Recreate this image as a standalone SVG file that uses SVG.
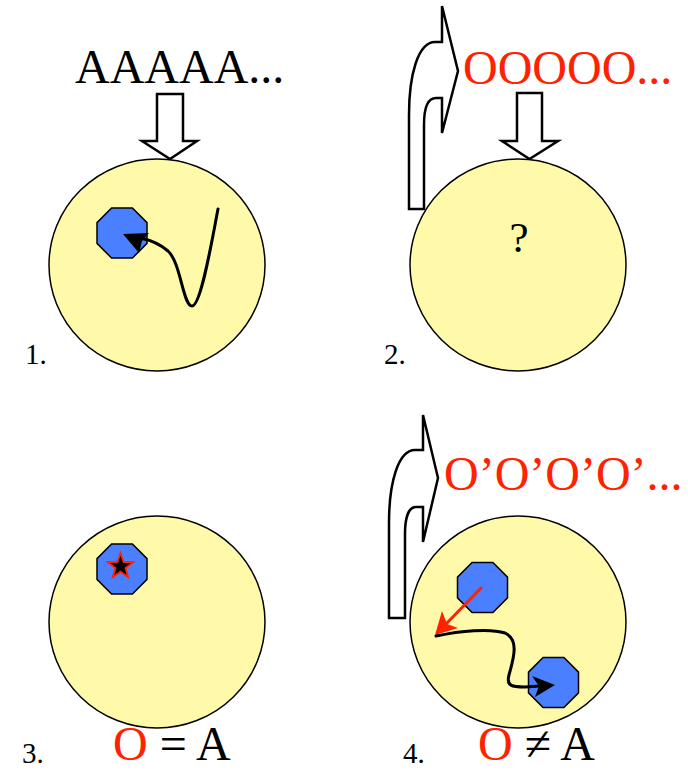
<svg xmlns="http://www.w3.org/2000/svg" width="688" height="771" viewBox="0 0 688 771">
<defs>
<style>
.cell{fill:#fffaaa;stroke:#000;stroke-width:1.5}
.oct{fill:#4a80ff;stroke:#000;stroke-width:1.5}
.big{font-family:"Liberation Serif","Times New Roman",serif;font-size:48px}
.num{font-family:"Liberation Serif","Times New Roman",serif;font-size:29px;fill:#000}
.red{fill:#ff2200}
.hollow{fill:#fff;stroke:#000;stroke-width:2.5;stroke-linejoin:miter}
.curve{fill:none;stroke:#000;stroke-width:3;stroke-linecap:round}
</style>
<polygon id="octShape" points="-10.4,-25 10.4,-25 25,-10.4 25,10.4 10.4,25 -10.4,25 -25,10.4 -25,-10.4"/>
</defs>
<rect width="688" height="771" fill="#fff"/>

<g id="panel1">
<text class="big" x="75" y="83">AAAAA...</text>
<polygon class="hollow" points="157,94 183,94 183,141 197,141 170,159 142,141 157,141"/>
<ellipse class="cell" cx="157" cy="265" rx="108" ry="106"/>
<use href="#octShape" class="oct" x="122" y="233"/>
<path class="curve" d="M218,209 C212,240 201,306 192,306 C183,306 181,263 168,251 C160,244 150,240 140,238"/>
<polygon points="123,234 149,233 142,241 139,253" fill="#000"/>
<text class="num" x="25" y="364">1.</text>
</g>

<g id="panel2">
<path class="hollow" d="M409,209 L409,115 C409,75 418,42 435,42 L442,42 L442,6 L458,71 L442,133 L442,98 L436,98 C428,98 424,108 424,125 L424,209 Z"/>
<text class="big red" x="463" y="84">OOOOO...</text>
<polygon class="hollow" points="517,93 542,93 542,141 558,141 529.5,159 502,141 517,141"/>
<ellipse class="cell" cx="518" cy="265" rx="108" ry="106"/>
<text x="519" y="252" text-anchor="middle" font-family="Liberation Serif, Times New Roman, serif" font-size="43">?</text>
<text class="num" x="384" y="364">2.</text>
</g>

<g id="panel3">
<ellipse class="cell" cx="157" cy="622" rx="108" ry="106"/>
<use href="#octShape" class="oct" x="122" y="569"/>
<polygon points="120.5,553 123.6,562.2 133.2,562.2 125.5,568 128.3,577.3 120.5,571.7 112.7,577.3 115.5,568 107.8,562.2 117.4,562.2" fill="#000" stroke="#ff2200" stroke-width="1.8" stroke-linejoin="miter"/>
<text class="num" x="22" y="763">3.</text>
<text class="big" x="113" y="760"><tspan class="red">O</tspan> = A</text>
</g>

<g id="panel4">
<path class="hollow" d="M389,618 L389,523 C389,483 398,450 415,450 L423,450 L423,415 L438,478 L423,542 L423,507 L416,507 C409,507 405,517 405,534 L405,618 Z"/>
<text class="big red" x="444" y="490">O’O’O’O’...</text>
<ellipse class="cell" cx="518" cy="622" rx="108" ry="106"/>
<use href="#octShape" class="oct" x="482.5" y="587.5"/>
<use href="#octShape" class="oct" x="553.5" y="682.5"/>
<line x1="481" y1="588" x2="446" y2="624" stroke="#ff2200" stroke-width="3" stroke-linecap="round"/>
<polygon points="435,635 442,611 447,624 458,628" fill="#ff2200"/>
<path class="curve" d="M436,636 C460,631 490,628 505,633 C520,640 513,660 509,675 C506,686 512,687 525,687 L540,686"/>
<polygon points="555,685 532,676 539,686 535,697" fill="#000"/>
<text class="num" x="403" y="763">4.</text>
<text class="big" x="478" y="760"><tspan class="red">O</tspan> ≠ A</text>
</g>

<g id="connectors"/>
</svg>
